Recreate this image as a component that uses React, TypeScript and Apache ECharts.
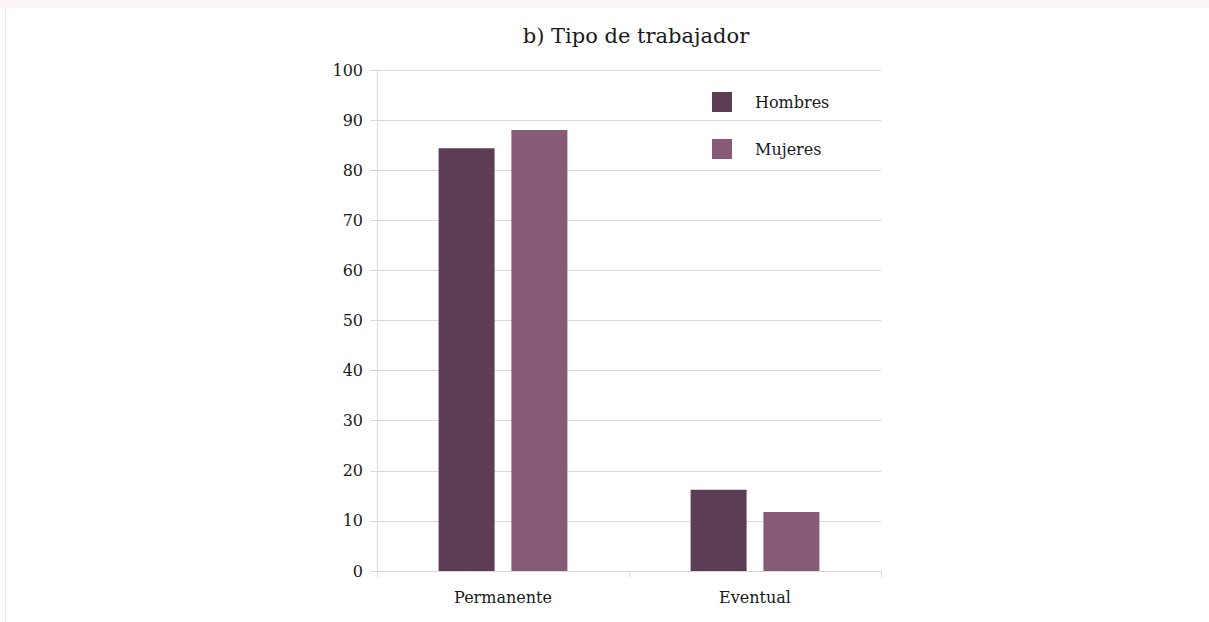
import React, { useEffect, useRef } from "react";
import * as echarts from "echarts";

const categories = ["Permanente", "Eventual"];
const hombres = [84.4, 16.2];
const mujeres = [88.0, 11.8];
const seriesNames = ["Hombres", "Mujeres"];
const title = "b) Tipo de trabajador";

const FONT = "'DejaVu Serif', serif";

export default function App() {
  const ref = useRef<HTMLDivElement>(null);
  useEffect(() => {
    if (!ref.current) return;
    const chart = echarts.init(ref.current, undefined, { renderer: "svg" });
    chart.setOption({
      animation: false,
      backgroundColor: "transparent",
      title: {
        text: title,
        left: 631,
        top: 20,
        textAlign: "center",
        textStyle: { fontFamily: FONT, fontSize: 21, fontWeight: "normal", color: "#1a1a1a" },
      },
      legend: {
        orient: "vertical",
        left: 707,
        top: 87,
        itemWidth: 20,
        itemHeight: 20,
        itemGap: 27,
        icon: "rect",
        data: seriesNames,
        textStyle: { fontFamily: FONT, fontSize: 16, color: "#1a1a1a", padding: [0, 0, 0, 18] },
      },
      grid: { left: 377, right: 328, top: 70, bottom: 51 },
      xAxis: {
        type: "category",
        data: categories,
        axisLine: { lineStyle: { color: "#d9d9d9" } },
        axisTick: { show: true, length: 6, lineStyle: { color: "#d9d9d9" } },
        axisLabel: { fontFamily: FONT, fontSize: 16, color: "#1a1a1a", margin: 18 },
      },
      yAxis: {
        type: "value",
        min: 0,
        max: 100,
        interval: 10,
        axisLine: { show: true, lineStyle: { color: "#d9d9d9" } },
        axisTick: { show: true, length: 7, lineStyle: { color: "#d9d9d9" } },
        splitLine: { lineStyle: { color: "#d9d9d9" } },
        axisLabel: { fontFamily: FONT, fontSize: 16, color: "#1a1a1a", margin: 14 },
      },
      series: [
        {
          name: seriesNames[0],
          type: "bar",
          data: hombres,
          barWidth: 56,
          barGap: "30%",
          itemStyle: { color: "#5d3d55" },
        },
        {
          name: seriesNames[1],
          type: "bar",
          data: mujeres,
          barWidth: 56,
          barGap: "30%",
          itemStyle: { color: "#875a75" },
        },
      ],
    });
    return () => chart.dispose();
  }, []);
  return (
    <div style={{ position: "fixed", left: 0, top: 0, width: 1209, height: 622, background: "#fff" }}>
      <div style={{ position: "absolute", left: 0, top: 0, width: 1209, height: 8, background: "#fcf4f6" }} />
      <div style={{ position: "absolute", left: 5, top: 8, width: 1, height: 614, background: "#f3dfe5" }} />
      <div ref={ref} style={{ position: "absolute", left: 0, top: 0, width: 1209, height: 622 }} />
    </div>
  );
}
